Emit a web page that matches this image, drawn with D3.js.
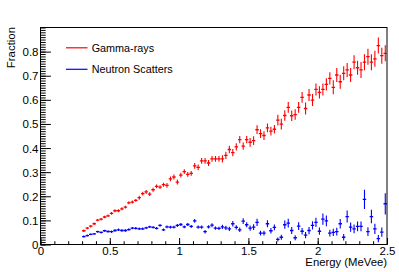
<!DOCTYPE html>
<html>
<head>
<meta charset="utf-8">
<script src="https://cdn.jsdelivr.net/npm/d3@7"></script>
<style>
  body { margin: 0; background: #fff; }
  text { font-family: "Liberation Sans", Arial, sans-serif; fill: #000; }
</style>
</head>
<body>
<div id="chart"></div>
<script>
// bin centres (MeVee), 0.025 wide bins
var energy = [
  0.3125,0.3375,0.3625,0.3875,0.4125,0.4375,0.4625,0.4875,
  0.5125,0.5375,0.5625,0.5875,0.6125,0.6375,0.6625,0.6875,
  0.7125,0.7375,0.7625,0.7875,0.8125,0.8375,0.8625,0.8875,
  0.9125,0.9375,0.9625,0.9875,1.0125,1.0375,1.0625,1.0875,
  1.1125,1.1375,1.1625,1.1875,1.2125,1.2375,1.2625,1.2875,
  1.3125,1.3375,1.3625,1.3875,1.4125,1.4375,1.4625,1.4875,
  1.5125,1.5375,1.5625,1.5875,1.6125,1.6375,1.6625,1.6875,
  1.7125,1.7375,1.7625,1.7875,1.8125,1.8375,1.8625,1.8875,
  1.9125,1.9375,1.9625,1.9875,2.0125,2.0375,2.0625,2.0875,
  2.1125,2.1375,2.1625,2.1875,2.2125,2.2375,2.2625,2.2875,
  2.3125,2.3375,2.3625,2.3875,2.4125,2.4375,2.4625,2.4875
];
var binHalfWidth = 0.0125;

var gamma = [
  0.057,0.068,0.076,0.086,0.101,0.105,0.114,0.119,
  0.129,0.140,0.140,0.148,0.155,0.173,0.176,0.183,
  0.194,0.211,0.218,0.209,0.227,0.241,0.238,0.248,
  0.245,0.272,0.280,0.259,0.288,0.302,0.291,0.295,
  0.326,0.320,0.347,0.347,0.338,0.355,0.355,0.355,
  0.355,0.370,0.394,0.381,0.405,0.435,0.408,0.435,
  0.424,0.431,0.476,0.460,0.452,0.484,0.470,0.478,
  0.516,0.499,0.535,0.569,0.534,0.539,0.569,0.610,
  0.564,0.620,0.599,0.643,0.631,0.643,0.664,0.689,
  0.652,0.703,0.675,0.710,0.724,0.703,0.756,0.733,
  0.724,0.756,0.779,0.756,0.770,0.825,0.783,0.793
];
var gammaErr = [
  0.003,0.003,0.003,0.003,0.003,0.003,0.003,0.003,
  0.004,0.004,0.004,0.004,0.004,0.004,0.004,0.004,
  0.006,0.006,0.006,0.006,0.006,0.006,0.006,0.006,
  0.008,0.008,0.008,0.008,0.008,0.008,0.008,0.008,
  0.010,0.010,0.010,0.010,0.010,0.010,0.010,0.010,
  0.013,0.013,0.013,0.013,0.013,0.013,0.013,0.013,
  0.016,0.016,0.016,0.016,0.016,0.016,0.016,0.016,
  0.020,0.020,0.020,0.020,0.020,0.020,0.020,0.020,
  0.023,0.023,0.023,0.023,0.023,0.023,0.023,0.023,
  0.027,0.027,0.027,0.027,0.027,0.027,0.027,0.027,
  0.031,0.031,0.031,0.031,0.031,0.031,0.031,0.031
];

var neutron = [
  0.033,0.037,0.042,0.044,0.053,0.050,0.057,0.054,
  0.053,0.058,0.061,0.058,0.058,0.062,0.068,0.067,
  0.065,0.065,0.069,0.073,0.071,0.067,0.079,0.061,
  0.073,0.072,0.072,0.079,0.083,0.073,0.083,0.075,
  0.098,0.072,0.072,0.053,0.073,0.080,0.068,0.067,
  0.073,0.069,0.065,0.086,0.071,0.061,0.097,0.082,
  0.068,0.072,0.092,0.047,0.047,0.086,0.057,0.071,
  0.021,0.030,0.082,0.089,0.058,0.028,0.076,0.055,
  0.039,0.058,0.079,0.092,0.055,0.105,0.098,0.047,
  0.050,0.053,0.086,0.030,0.116,0.072,0.065,0.075,
  0.075,0.187,0.053,0.116,0.065,0.024,0.051,0.169
];
var neutronErr = [
  0.002,0.002,0.002,0.002,0.002,0.002,0.002,0.002,
  0.003,0.003,0.003,0.003,0.003,0.003,0.003,0.003,
  0.003,0.003,0.003,0.003,0.003,0.003,0.003,0.003,
  0.004,0.004,0.004,0.004,0.004,0.004,0.004,0.004,
  0.006,0.005,0.005,0.005,0.005,0.006,0.005,0.005,
  0.007,0.007,0.007,0.009,0.007,0.007,0.010,0.008,
  0.009,0.010,0.013,0.008,0.008,0.012,0.009,0.010,
  0.006,0.008,0.015,0.016,0.012,0.008,0.014,0.011,
  0.011,0.013,0.015,0.017,0.013,0.021,0.020,0.012,
  0.013,0.014,0.018,0.011,0.023,0.017,0.016,0.018,
  0.018,0.038,0.016,0.026,0.019,0.013,0.017,0.042
];

var xTicks = [0, 0.5, 1, 1.5, 2, 2.5];
var xTickLabels = ["0", "0.5", "1", "1.5", "2", "2.5"];
var yTicks = [0, 0.1, 0.2, 0.3, 0.4, 0.5, 0.6, 0.7, 0.8];
var yTickLabels = ["0", "0.1", "0.2", "0.3", "0.4", "0.5", "0.6", "0.7", "0.8"];

var seriesNames = ["Gamma-rays", "Neutron Scatters"];
var seriesColors = ["#ff0000", "#0000ff"];

var width = 399,
    height = 272;
var plotLeft = 40.5, plotRight = 387, plotTop = 27.5, plotBottom = 244.5;

var svg = d3.select("#chart")
  .append("svg")
    .attr("width", width)
    .attr("height", height);

var x = d3.scaleLinear().domain([0, 2.5]).range([plotLeft, plotRight]);
var y = d3.scaleLinear().domain([0, 0.9]).range([plotBottom, plotTop]);

// minor ticks
var xMinor = d3.range(0, 2.5001, 0.1);
var yMinor = d3.range(0, 0.9001, 0.01);

svg.append("g")
  .attr("transform", "translate(0," + plotBottom + ")")
  .call(d3.axisBottom(x).tickValues(xMinor).tickFormat("").tickSizeInner(-3.3).tickSizeOuter(0))
  .call(g => g.select(".domain").remove());

svg.append("g")
  .attr("transform", "translate(" + plotLeft + ",0)")
  .call(d3.axisLeft(y).tickValues(yMinor).tickFormat("").tickSizeInner(-5.2).tickSizeOuter(0))
  .call(g => g.select(".domain").remove());

// major ticks + labels
var xAxis = svg.append("g")
  .attr("transform", "translate(0," + plotBottom + ")")
  .call(d3.axisBottom(x).tickValues(xTicks)
    .tickFormat(function(d, i) { return xTickLabels[i]; })
    .tickSizeInner(-6.5).tickSizeOuter(0))
  .call(g => g.select(".domain").remove());
xAxis.selectAll("text")
  .attr("y", 10.2)
  .attr("dy", null)
  .style("font-size", "11.5px")
  .style("font-family", "Liberation Sans, Arial, sans-serif");

var yAxis = svg.append("g")
  .attr("transform", "translate(" + plotLeft + ",0)")
  .call(d3.axisLeft(y).tickValues(yTicks)
    .tickFormat(function(d, i) { return yTickLabels[i]; })
    .tickSizeInner(-10.4).tickSizeOuter(0))
  .call(g => g.select(".domain").remove());
yAxis.selectAll("text")
  .attr("x", -2)
  .attr("dy", "0.35em")
  .style("font-size", "11.5px")
  .style("font-family", "Liberation Sans, Arial, sans-serif");

svg.selectAll(".tick line").attr("stroke", "#000");

// frame
svg.append("rect")
  .attr("x", plotLeft).attr("y", plotTop)
  .attr("width", plotRight - plotLeft).attr("height", plotBottom - plotTop)
  .attr("fill", "none")
  .attr("stroke", "#000")
  .attr("stroke-width", 1);

// axis titles
svg.append("text")
  .attr("x", 387).attr("y", 265.6)
  .attr("text-anchor", "end")
  .style("font-size", "11.3px")
  .text("Energy (MeVee)");

svg.append("text")
  .attr("transform", "translate(15,27) rotate(-90)")
  .attr("text-anchor", "end")
  .style("font-size", "11.4px")
  .text("Fraction");

// data
svg.append("clipPath").attr("id", "clip")
  .append("rect")
  .attr("x", plotLeft).attr("y", plotTop)
  .attr("width", plotRight - plotLeft).attr("height", plotBottom - plotTop);

var plot = svg.append("g").attr("clip-path", "url(#clip)");

function drawSeries(vals, errs, color) {
  var pts = energy.map(function(e, i) { return {e: e, v: vals[i], err: errs[i]}; });
  var g = plot.append("g").attr("stroke", color);
  g.selectAll("line.v")
    .data(pts)
    .enter()
    .append("line")
    .attr("stroke-width", 1.1)
    .attr("x1", function(d) { return x(d.e); })
    .attr("x2", function(d) { return x(d.e); })
    .attr("y1", function(d) { return y(d.v - d.err) + 0.5; })
    .attr("y2", function(d) { return y(d.v + d.err) - 0.5; });
  g.selectAll("line.h")
    .data(pts)
    .enter()
    .append("line")
    .attr("stroke-width", 1.3)
    .attr("x1", function(d) { return x(d.e - binHalfWidth); })
    .attr("x2", function(d) { return x(d.e + binHalfWidth); })
    .attr("y1", function(d) { return y(d.v); })
    .attr("y2", function(d) { return y(d.v); });
}

drawSeries(gamma, gammaErr, seriesColors[0]);
drawSeries(neutron, neutronErr, seriesColors[1]);

// legend
var legend = svg.append("g");
seriesNames.forEach(function(name, i) {
  var ly = 47.8 + i * 21.5;
  legend.append("line")
    .attr("x1", 66).attr("x2", 87.5)
    .attr("y1", ly).attr("y2", ly)
    .attr("stroke", seriesColors[i])
    .attr("stroke-width", 1.2);
  legend.append("text")
    .attr("x", 91.7).attr("y", ly)
    .attr("dy", "0.35em")
    .style("font-size", "10.8px")
    .text(name);
});
</script>
</body>
</html>
